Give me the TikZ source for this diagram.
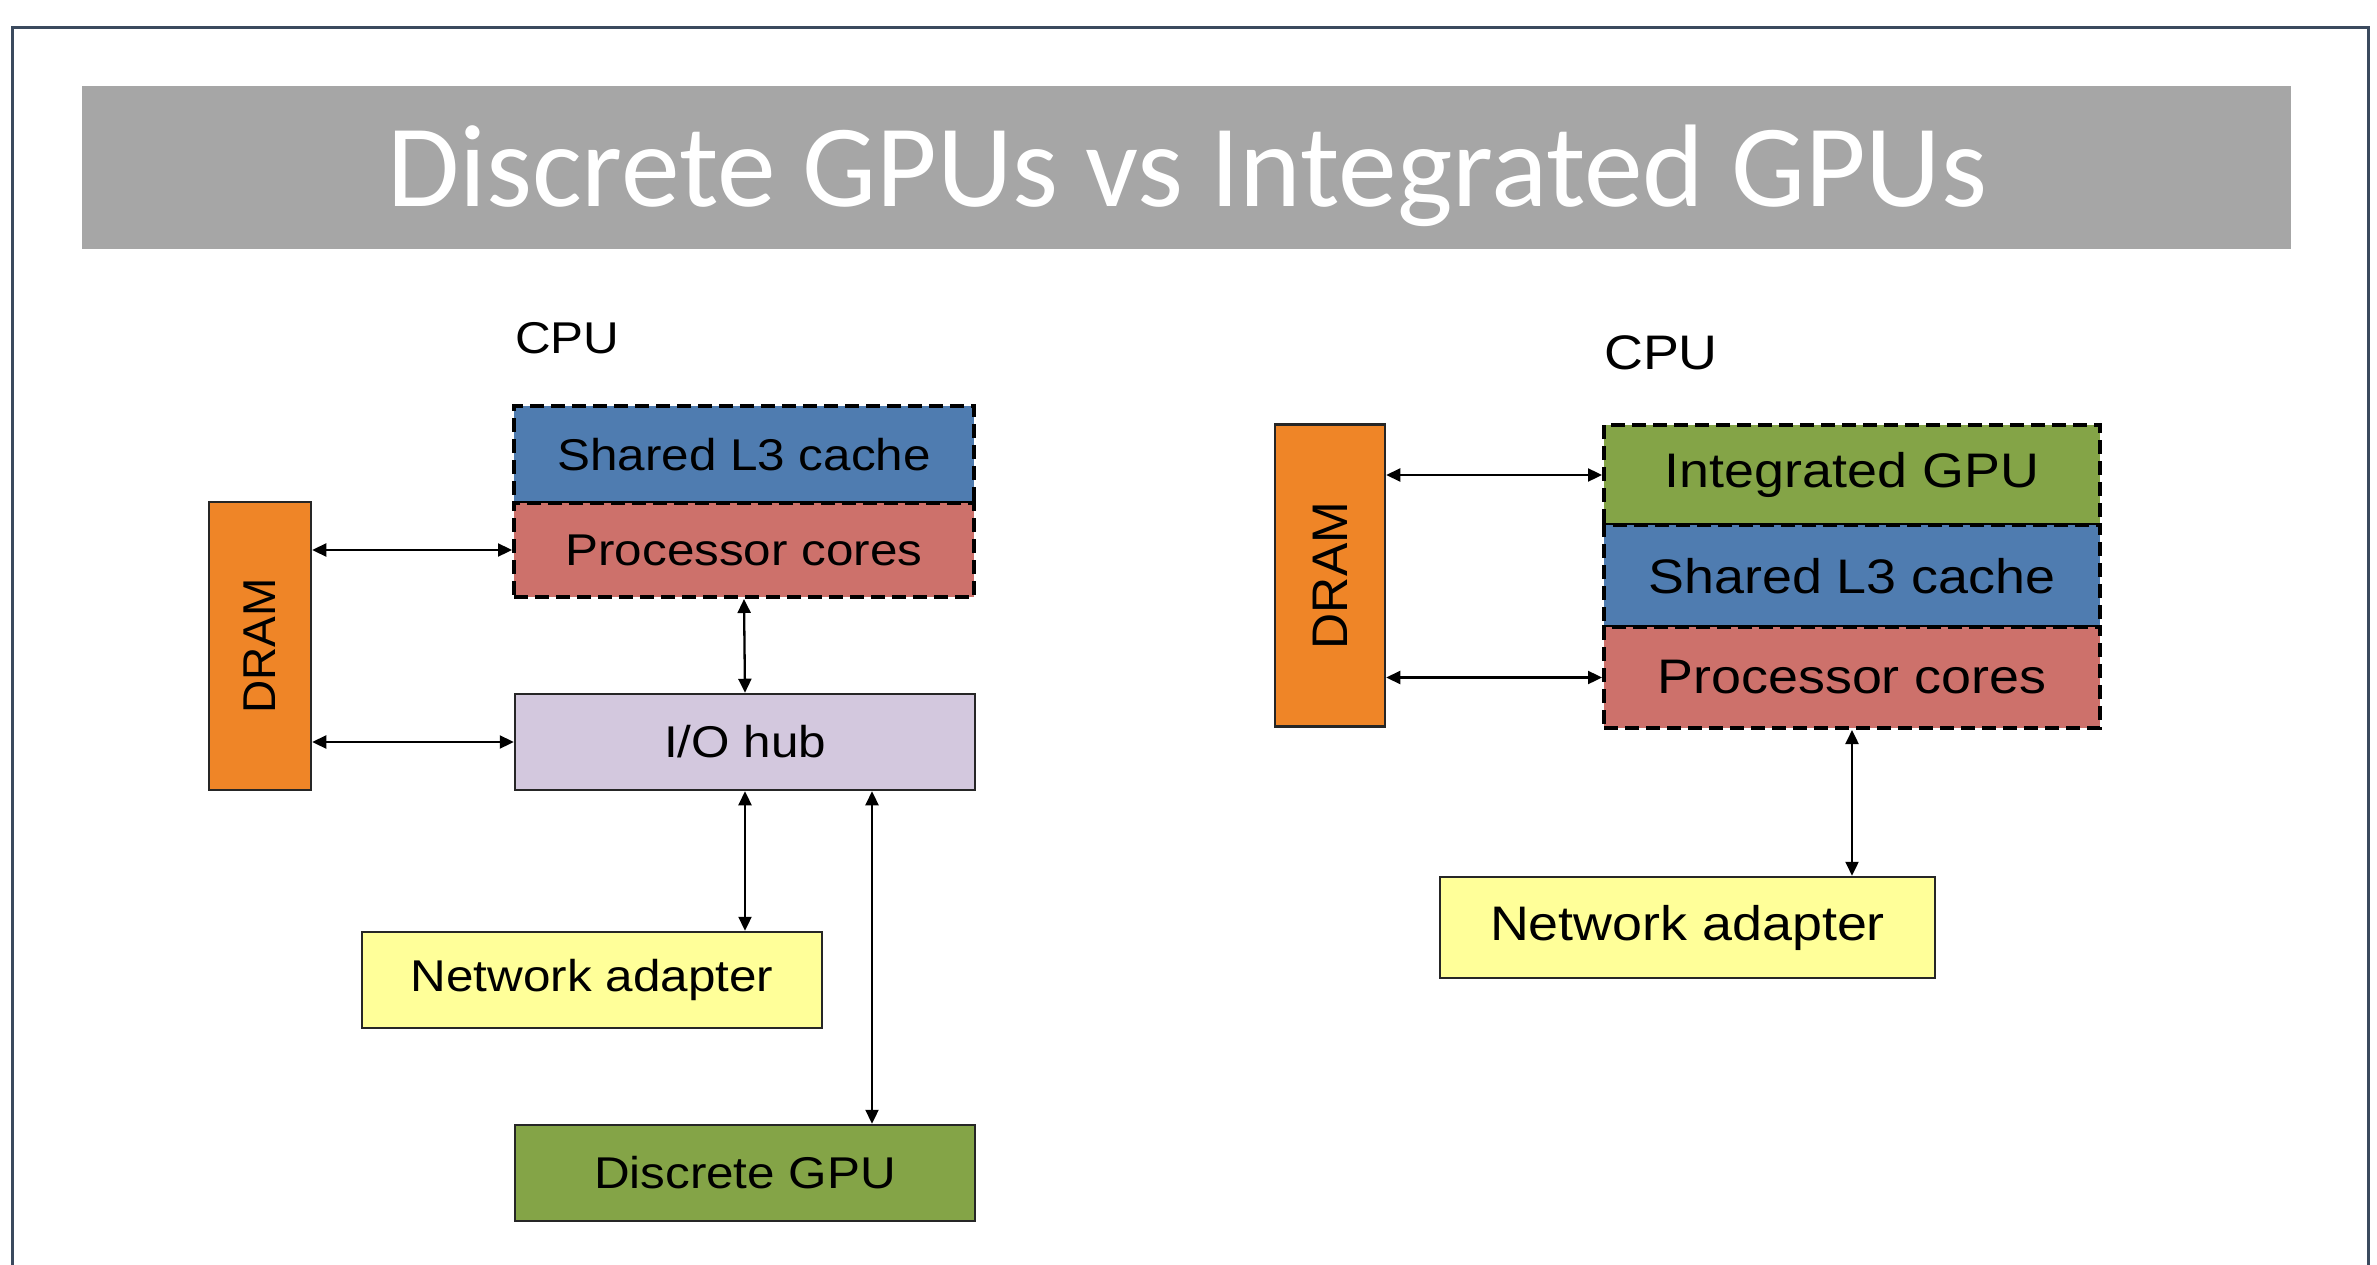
\documentclass[tikz,border=0pt]{standalone}
\usepackage{fontspec}
\usetikzlibrary{arrows.meta,calc}
\newfontfamily\boxfont[FakeStretch=1.11]{Liberation Sans}
\newfontfamily\dramfont{Liberation Sans}
\newfontfamily\titlefont{Carlito}
\definecolor{bandgray}{HTML}{A6A6A6}
\definecolor{cacheblue}{HTML}{4F7CB0}
\definecolor{corered}{HTML}{CD716B}
\definecolor{dramorange}{HTML}{EF8527}
\definecolor{hublav}{HTML}{D3C8DE}
\definecolor{netyellow}{HTML}{FFFF99}
\definecolor{gpugreen}{HTML}{84A447}
\definecolor{framecol}{HTML}{3B4A5E}
\tikzset{
  blk/.style={draw=black!85, line width=2.5pt, inner sep=0pt, anchor=center},
  dblk/.style={draw=black, line width=4pt, dash pattern=on 14pt off 7pt, inner sep=0pt, anchor=center},
  lbl/.style={font=\boxfont\fontsize{44.5}{50}\selectfont},
  lblR/.style={font=\boxfont\fontsize{48.5}{54}\selectfont},
  biarrow/.style={line width=2.3pt, {Triangle[length=14pt,width=13pt]}-{Triangle[length=14pt,width=13pt]}},
}
\begin{document}
\begin{tikzpicture}[x=1pt,y=-1pt]
\useasboundingbox (0,0) rectangle (2377,1265);
\fill[white] (0,0) rectangle (2377,1265);
% frame
\draw[framecol, line width=3pt] (12,1270) -- (12,28) -- (2368,28) -- (2368,1270);
% title band
\node[fill=bandgray, minimum width=2209pt, minimum height=163pt, inner sep=0pt] (band) at (1186,167.5) {};
\node[text=white, font=\titlefont\fontsize{117.5}{122}\selectfont, anchor=base] (title) at (1187,207) {Discrete GPUs vs Integrated GPUs};

% ---------- left diagram ----------
\node[lbl, anchor=west, inner sep=0pt] (cpuL) at (515,338) {CPU};
\node[dblk, fill=cacheblue, minimum width=460pt, minimum height=97pt, lbl] (shL) at (744,454.5) {Shared L3 cache};
\node[dblk, fill=corered, minimum width=460pt, minimum height=94pt, lbl] (procL) at (744,550) {Processor cores};
\node[blk, fill=dramorange, minimum width=102pt, minimum height=288pt] (dramL) at (260,646) {};
\node[font=\dramfont\fontsize{46}{50}\selectfont, rotate=90, inner sep=0pt] (dramLt) at (dramL.center) {DRAM};
\node[blk, fill=hublav, minimum width=460pt, minimum height=96pt, lbl] (ioL) at (745,742) {I/O hub};
\node[blk, fill=netyellow, minimum width=460pt, minimum height=96pt, lbl] (naL) at (592,980) {Network adapter};
\node[blk, fill=gpugreen, minimum width=460pt, minimum height=96pt, lbl] (gpuL) at (745,1173) {Discrete GPU};

\draw[biarrow] (procL.west -| dramL.east) -- (procL.west);
\draw[biarrow] (ioL.west -| dramL.east) -- (ioL.west);
\draw[biarrow] (procL.south) -- (ioL.north);
\draw[biarrow] (ioL.south) -- (ioL.south |- naL.north);
\draw[biarrow] ([xshift=127pt]ioL.south) -- ([xshift=127pt]ioL.south |- gpuL.north);

% ---------- right diagram ----------
\node[lblR, anchor=west, inner sep=0pt] (cpuR) at (1604,353) {CPU};
\node[dblk, fill=gpugreen, minimum width=496pt, minimum height=100pt, lblR] (igR) at (1852,475) {Integrated GPU};
\node[dblk, fill=cacheblue, minimum width=496pt, minimum height=102pt, lblR] (shR) at (1852,576) {Shared L3 cache};
\node[dblk, fill=corered, minimum width=496pt, minimum height=101pt, lblR] (procR) at (1852,677.5) {Processor cores};
\node[blk, fill=dramorange, minimum width=110pt, minimum height=302pt] (dramR) at (1330,575.5) {};
\node[font=\dramfont\fontsize{50}{54}\selectfont, rotate=90, inner sep=0pt] (dramRt) at (dramR.center) {DRAM};
\node[blk, fill=netyellow, minimum width=495pt, minimum height=101pt, lblR] (naR) at (1687.5,927.5) {Network adapter};

\draw[biarrow] (igR.west -| dramR.east) -- (igR.west);
\draw[biarrow] (procR.west -| dramR.east) -- (procR.west);
\draw[biarrow] (procR.south) -- (procR.south |- naR.north);
\end{tikzpicture}
\end{document}
